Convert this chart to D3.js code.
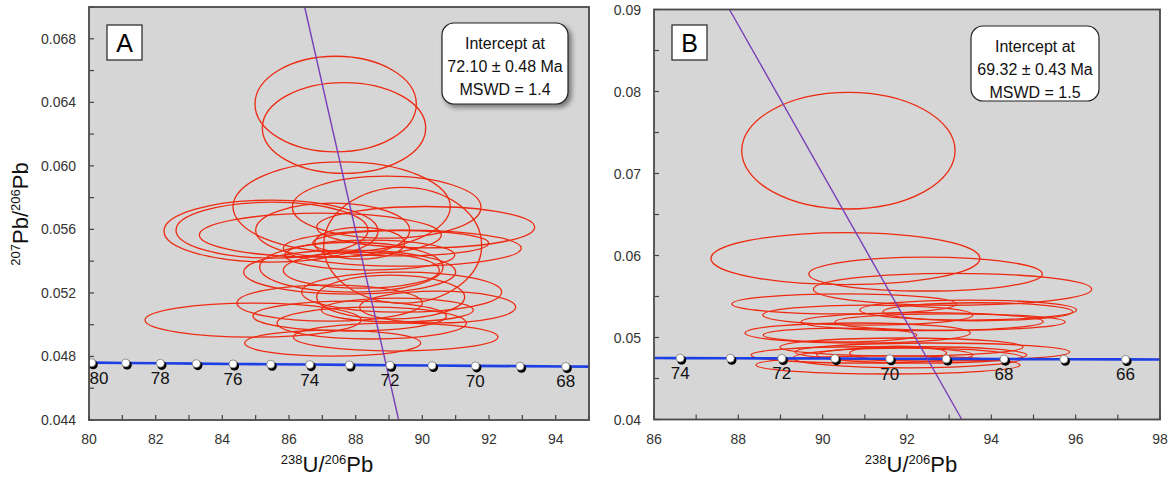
<!DOCTYPE html>
<html>
<head>
<meta charset="utf-8">
<script src="https://cdn.jsdelivr.net/npm/d3@7"></script>
<style>
  body { margin: 0; background: #fff; }
  text { font-family: "Liberation Sans", Arial, sans-serif; }
</style>
</head>
<body>
<script type="text/javascript">
// concordia ages (Ma) with their 238U/206Pb and 207Pb/206Pb positions
const concAge = [81, 80, 79, 78, 77, 76, 75, 74, 73, 72, 71, 70, 69, 68, 67, 66, 65];
const concX = [79.09, 80.08, 81.10, 82.14, 83.22, 84.32, 85.45, 86.62, 87.81, 89.03, 90.29, 91.59, 92.93, 94.30, 95.72, 97.18, 98.68];
const concY = [0.04763, 0.04761, 0.04759, 0.04757, 0.04755, 0.04753, 0.04751, 0.04749, 0.04747, 0.04745, 0.04743, 0.04741, 0.04739, 0.04737, 0.04735, 0.04733, 0.04731];

// error ellipses: [238U/206Pb, 207Pb/206Pb, half width x, half width y]
const ellA = [
  [87.40, 0.06389, 2.42, 0.00301], [87.65, 0.06238, 2.45, 0.00286],
  [87.58, 0.05742, 3.26, 0.00283], [85.46, 0.05589, 3.21, 0.00195],
  [85.49, 0.05595, 2.88, 0.00176], [86.94, 0.05564, 3.63, 0.00138],
  [87.31, 0.05595, 2.31, 0.00170], [88.93, 0.05740, 2.83, 0.00195],
  [89.41, 0.05500, 2.37, 0.00365], [90.10, 0.05614, 3.27, 0.00130],
  [89.40, 0.05482, 3.57, 0.00113], [89.35, 0.05513, 2.64, 0.00080],
  [87.82, 0.05331, 3.18, 0.00138], [87.87, 0.05362, 2.75, 0.00157],
  [88.17, 0.05343, 2.34, 0.00113], [89.38, 0.05205, 3.00, 0.00126],
  [89.05, 0.05174, 2.22, 0.00138], [87.22, 0.05136, 2.78, 0.00113],
  [84.92, 0.05029, 3.24, 0.00107], [87.82, 0.05054, 2.90, 0.00094],
  [88.48, 0.05010, 2.84, 0.00100], [90.46, 0.05111, 2.34, 0.00100],
  [89.25, 0.05092, 2.28, 0.00075], [89.20, 0.04922, 3.07, 0.00088],
  [87.31, 0.04884, 2.64, 0.00082], [88.12, 0.05513, 1.35, 0.00100],
  [88.42, 0.05438, 2.55, 0.00094]
];
const ellB = [
  [90.61, 0.07278, 2.53, 0.00711], [90.54, 0.05963, 3.19, 0.00317],
  [92.44, 0.05774, 2.77, 0.00207], [93.08, 0.05588, 3.30, 0.00195],
  [90.51, 0.05409, 2.66, 0.00122], [93.45, 0.05335, 2.57, 0.00122],
  [93.68, 0.05314, 2.25, 0.00110], [91.07, 0.05274, 2.49, 0.00122],
  [92.36, 0.05193, 2.87, 0.00110], [93.02, 0.05189, 2.73, 0.00100],
  [90.83, 0.05055, 2.67, 0.00122], [90.41, 0.05030, 1.82, 0.00085],
  [91.87, 0.04884, 2.88, 0.00110], [92.60, 0.04823, 3.26, 0.00110],
  [90.93, 0.04787, 2.63, 0.00100], [92.35, 0.04787, 2.49, 0.00100],
  [91.79, 0.04811, 1.15, 0.00085], [91.55, 0.04665, 3.13, 0.00110],
  [92.02, 0.04750, 2.73, 0.00120]
];

// discordia line end points
const discA = [[86.47, 0.070], [89.29, 0.044]];
const discB = [[87.79, 0.090], [93.30, 0.040]];

const xTicksA = [80, 82, 84, 86, 88, 90, 92, 94];
const yTicksA = [0.044, 0.048, 0.052, 0.056, 0.060, 0.064, 0.068];
const xTicksB = [86, 88, 90, 92, 94, 96, 98];
const yTicksB = [0.04, 0.05, 0.06, 0.07, 0.08, 0.09];

const interceptA = ["Intercept at", "72.10 ± 0.48 Ma", "MSWD = 1.4"];
const interceptB = ["Intercept at", "69.32 ± 0.43 Ma", "MSWD = 1.5"];

let svg = d3.select("body").append("svg").attr("width", 1172).attr("height", 477);

let defs = svg.append("defs");
let f = defs.append("filter").attr("id", "shadow").attr("x", "-20%").attr("y", "-20%").attr("width", "150%").attr("height", "150%");
f.append("feDropShadow").attr("dx", 3).attr("dy", 3).attr("stdDeviation", 2.5).attr("flood-color", "#000").attr("flood-opacity", 0.45);

function panel(o) {
    let x = d3.scaleLinear().domain(o.xDom).range([o.left, o.right]);
    let y = d3.scaleLinear().domain(o.yDom).range([o.bottom, o.top]);
    let g = svg.append("g");
    let clipId = "clip" + o.name;
    defs.append("clipPath").attr("id", clipId).append("rect")
        .attr("x", o.left).attr("y", o.top).attr("width", o.right - o.left).attr("height", o.bottom - o.top);

    g.append("rect").attr("x", o.left).attr("y", o.top).attr("width", o.right - o.left).attr("height", o.bottom - o.top)
        .attr("fill", "#d6d6d6");

    let plot = g.append("g").attr("clip-path", "url(#" + clipId + ")");

    // ellipses
    plot.selectAll(null).data(o.ell).enter().append("ellipse")
        .attr("cx", d => x(d[0])).attr("cy", d => y(d[1]))
        .attr("rx", d => x(d[0] + d[2]) - x(d[0]))
        .attr("ry", d => y(d[1]) - y(d[1] + d[3]))
        .attr("fill", "none").attr("stroke", "#ee2a10").attr("stroke-width", 1.3);

    // concordia
    let pts = concAge.map((a, i) => [concX[i], concY[i], a]);
    plot.append("path").datum(pts)
        .attr("d", d3.line().x(d => x(d[0])).y(d => y(d[1])))
        .attr("fill", "none").attr("stroke", "#1d3fe3").attr("stroke-width", 2.6);

    // discordia
    plot.append("line")
        .attr("x1", x(o.disc[0][0])).attr("y1", y(o.disc[0][1]))
        .attr("x2", x(o.disc[1][0])).attr("y2", y(o.disc[1][1]))
        .attr("stroke", "#7a3db8").attr("stroke-width", 1.4);

    let inside = pts.filter(d => d[0] >= o.xDom[0] && d[0] <= o.xDom[1]);
    plot.selectAll(null).data(inside).enter().append("circle")
        .attr("cx", d => x(d[0]) + 1.5).attr("cy", d => y(d[1]) + 2).attr("r", 4.6).attr("fill", "#000");
    plot.selectAll(null).data(inside).enter().append("circle")
        .attr("cx", d => x(d[0])).attr("cy", d => y(d[1])).attr("r", 4)
        .attr("fill", "#fff").attr("stroke", "#666").attr("stroke-width", 0.7);
    g.selectAll(null).data(inside.filter(d => d[2] % 2 == 0)).enter().append("text")
        .attr("x", d => Math.max(x(d[0]), o.left + 10)).attr("y", d => y(d[1]) + 21)
        .attr("text-anchor", "middle").attr("font-size", 17).attr("fill", "#111")
        .text(d => d[2]);

    // ticks (inward)
    let xMinor = d3.range(o.xDom[0], o.xDom[1] + 0.001, 1);
    g.selectAll(null).data(xMinor).enter().append("line")
        .attr("x1", d => x(d)).attr("x2", d => x(d)).attr("y1", o.bottom).attr("y2", o.bottom - 5)
        .attr("stroke", "#444").attr("stroke-width", 1.2);
    let yMinor = d3.range(o.yDom[0], o.yDom[1] + 1e-6, o.yStep / 2);
    g.selectAll(null).data(yMinor).enter().append("line")
        .attr("y1", d => y(d)).attr("y2", d => y(d)).attr("x1", o.left).attr("x2", o.left + 5)
        .attr("stroke", "#444").attr("stroke-width", 1.2);

    g.selectAll(null).data(o.xTicks).enter().append("text")
        .attr("x", d => x(d)).attr("y", o.bottom + 24).attr("text-anchor", "middle")
        .attr("font-size", 14).attr("fill", "#333").text(d => d);
    g.selectAll(null).data(o.yTicks).enter().append("text")
        .attr("x", o.left - 13).attr("y", d => y(d) + 5).attr("text-anchor", "end")
        .attr("font-size", 14).attr("fill", "#333").text(d => d3.format(o.yFmt)(d));

    // frame
    g.append("rect").attr("x", o.left).attr("y", o.top).attr("width", o.right - o.left).attr("height", o.bottom - o.top)
        .attr("fill", "none").attr("stroke", "#4a4a4a").attr("stroke-width", 1.8);

    // panel letter
    g.append("rect").attr("x", o.left + 18).attr("y", 25).attr("width", 35).attr("height", 35)
        .attr("fill", "#fff").attr("stroke", "#222").attr("stroke-width", 1.2);
    g.append("text").attr("x", o.left + 35.5).attr("y", 52).attr("text-anchor", "middle")
        .attr("font-size", 25).attr("fill", "#000").text(o.name);

    // intercept box
    let b = o.box;
    g.append("rect").attr("x", b[0]).attr("y", b[1]).attr("width", b[2]).attr("height", b[3])
        .attr("rx", 12).attr("fill", "#fff").attr("stroke", "#222").attr("stroke-width", 1.2)
        .attr("filter", o.name == "A" ? "url(#shadow)" : null);
    g.selectAll(null).data(o.inter).enter().append("text")
        .attr("x", b[0] + b[2] / 2).attr("y", (d, i) => b[1] + 26 + i * 23)
        .attr("text-anchor", "middle").attr("font-size", 16).attr("fill", "#111").text(d => d);

    // x title
    let t = g.append("text").attr("x", o.xTitle).attr("y", 472).attr("text-anchor", "middle")
        .attr("font-size", 22).attr("fill", "#111");
    t.append("tspan").attr("font-size", 13).attr("dy", -8).text("238");
    t.append("tspan").attr("dy", 8).text("U/");
    t.append("tspan").attr("font-size", 13).attr("dy", -8).text("206");
    t.append("tspan").attr("dy", 8).text("Pb");
}

panel({name: "A", xDom: [80, 95], yDom: [0.044, 0.070], left: 89, right: 589, top: 7, bottom: 420,
    ell: ellA, disc: discA, xTicks: xTicksA, yTicks: yTicksA, yStep: 0.004, yFmt: ".3f",
    box: [442, 23, 126, 81], inter: interceptA, xTitle: 327});
panel({name: "B", xDom: [86, 98], yDom: [0.04, 0.09], left: 654, right: 1160, top: 9.5, bottom: 419.5,
    ell: ellB, disc: discB, xTicks: xTicksB, yTicks: yTicksB, yStep: 0.01, yFmt: ".2f",
    box: [971, 26, 128, 75], inter: interceptB, xTitle: 911});

// y title
let yt = svg.append("text").attr("transform", "translate(28,214) rotate(-90)").attr("text-anchor", "middle")
    .attr("font-size", 22).attr("fill", "#111");
yt.append("tspan").attr("font-size", 13).attr("dy", -8).text("207");
yt.append("tspan").attr("dy", 8).text("Pb/");
yt.append("tspan").attr("font-size", 13).attr("dy", -8).text("206");
yt.append("tspan").attr("dy", 8).text("Pb");
</script>
</body>
</html>
